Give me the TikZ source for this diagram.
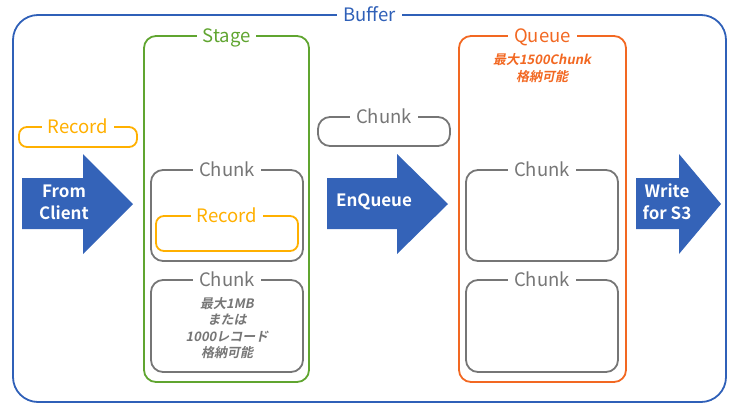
\documentclass[tikz,border=0pt]{standalone}
\usepackage{fontspec}
\setmainfont{Noto Sans CJK JP}[BoldFont={Noto Sans CJK JP Bold}]
\newfontfamily\jpnote{Noto Sans CJK JP Bold}[FakeSlant=0.2]
\usepackage{tikz}
\usetikzlibrary{positioning}
\definecolor{bufblue}{RGB}{47,96,184}
\definecolor{arrblue}{RGB}{52,99,184}
\definecolor{stgreen}{RGB}{96,165,48}
\definecolor{qorange}{RGB}{242,104,34}
\definecolor{recyellow}{RGB}{255,176,0}
\definecolor{chgray}{RGB}{118,118,118}
\tikzset{
  box/.style={rectangle, line width=1.8pt, inner sep=0pt, outer sep=0pt},
  bufferbox/.style={box, draw=bufblue, rounded corners=25pt},
  stagebox/.style={box, draw=stgreen, rounded corners=12pt},
  queuebox/.style={box, draw=qorange, rounded corners=12pt},
  chunkbox/.style={box, draw=chgray, rounded corners=12pt},
  recordbox/.style={box, draw=recyellow, rounded corners=8pt},
  tag/.style={fill=white, inner xsep=6pt, inner ysep=0pt,
    text height=13pt, text depth=0pt, font=\fontsize{18.5}{20}\selectfont},
  note/.style={align=center, font=\jpnote\fontsize{13}{16.5}\selectfont},
  arrowtext/.style={align=center, text=white, font=\bfseries\fontsize{17}{22}\selectfont}
}
% block arrow: left x, head start x, tip x
\newcommand{\bigarrow}[3]{%
  \fill[arrblue] (#1,178) -- (#2,178) -- (#2,154) -- (#3,204) -- (#2,254)
    -- (#2,229) -- (#1,229) -- cycle;}
\begin{document}
\begin{tikzpicture}[x=1pt, y=-1pt]
  \useasboundingbox (0,0) rectangle (743,415);

  % Buffer
  \node (buffer) at (369.5,208.5) [bufferbox, minimum width=713, minimum height=387] {};
  \node (buflbl) at (buffer.north) [tag, text=bufblue] {Buffer};

  % Incoming record
  \node (inrec) at (78,137) [recordbox, minimum width=118, minimum height=20] {};
  \node (inreclbl) at (inrec.north) [tag, text=recyellow] {Record};
  \bigarrow{22}{83}{133}
  \node (fromclient) at (64,202) [arrowtext] {From\\Client};

  % Stage
  \node (stage) at (226.5,209) [stagebox, minimum width=165, minimum height=346] {};
  \node (stagelbl) at (stage.north) [tag, text=stgreen] {Stage};
  \node (stchunka) at (227,215.5) [chunkbox, minimum width=152, minimum height=91] {};
  \node (stchunkalbl) at (stchunka.north) [tag, text=chgray] {Chunk};
  \node (strec) at (227,233.5) [recordbox, minimum width=142, minimum height=35] {};
  \node (streclbl) at (strec.north) [tag, text=recyellow] {Record};
  \node (stchunkb) at (227,326) [chunkbox, minimum width=152, minimum height=92] {};
  \node (stchunkblbl) at (stchunkb.north) [tag, text=chgray] {Chunk};
  \node (stnote) at (227,328) [note, text=chgray] {最大1MB\\または\\1000レコード\\格納可能};

  % Chunk on its way
  \node (movchunk) at (384,131.5) [chunkbox, minimum width=132, minimum height=29] {};
  \node (movchunklbl) at (movchunk.north) [tag, text=chgray] {Chunk};
  \bigarrow{327}{397}{448}
  \node (enqueue) at (374,202) [arrowtext] {EnQueue};

  % Queue
  \node (queue) at (542.5,209) [queuebox, minimum width=167, minimum height=346] {};
  \node (queuelbl) at (queue.north) [tag, text=qorange] {Queue};
  \node (qnote) at (542,68) [note, text=qorange] {最大1500Chunk\\格納可能};
  \node (qchunka) at (542,215.5) [chunkbox, minimum width=152, minimum height=91] {};
  \node (qchunkalbl) at (qchunka.north) [tag, text=chgray] {Chunk};
  \node (qchunkb) at (542,326) [chunkbox, minimum width=152, minimum height=92] {};
  \node (qchunkblbl) at (qchunkb.north) [tag, text=chgray] {Chunk};

  % Output
  \bigarrow{636}{679}{721}
  \node (writes3) at (667,202) [arrowtext] {Write\\for S3};
\end{tikzpicture}
\end{document}
